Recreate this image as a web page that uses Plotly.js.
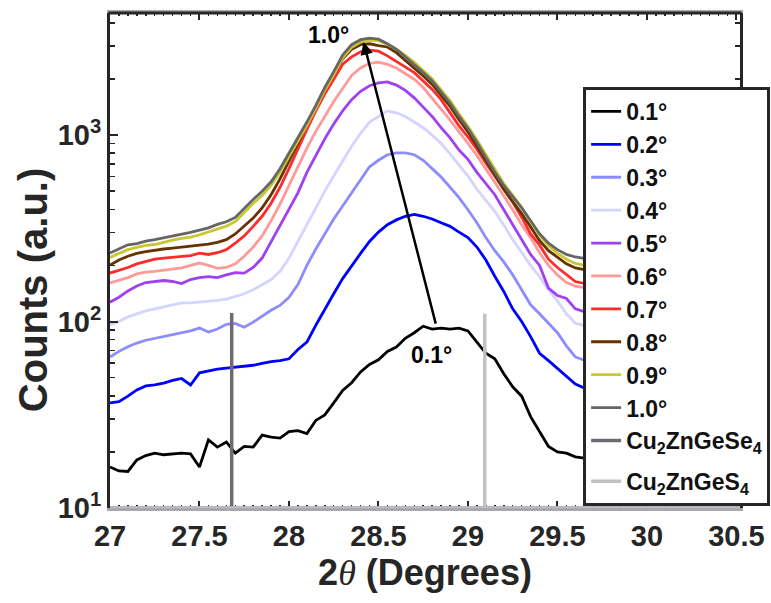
<!DOCTYPE html>
<html>
<head>
<meta charset="utf-8">
<script src="https://cdn.plot.ly/plotly-3.0.1.min.js"></script>
<style>html,body{margin:0;padding:0;background:#fff;}#chart{width:771px;height:603px;}</style>
</head>
<body>
<div id="chart"></div>
<script>
// 2theta grid (degrees)
const twoTheta = [27.00,27.05,27.10,27.15,27.20,27.25,27.30,27.35,27.40,27.45,27.50,27.55,27.60,27.65,27.70,27.75,27.80,27.85,27.90,27.95,
  28.00,28.05,28.10,28.15,28.20,28.25,28.30,28.35,28.40,28.45,28.50,28.55,28.60,28.65,28.70,28.75,28.80,28.85,28.90,28.95,
  29.00,29.05,29.10,29.15,29.20,29.25,29.30,29.35,29.40,29.45,29.50,29.55,29.60,29.65];

const seriesNames = ['0.1°','0.2°','0.3°','0.4°','0.5°','0.6°','0.7°','0.8°','0.9°','1.0°'];

const counts01 = [16.6,15.8,15.7,18.1,19.1,19.7,19.3,19.5,19.7,19.5,16.6,23.2,21.2,22.6,19.7,21.4,21.2,24.6,24,23.7,
  25.7,26,25.1,29.5,31.6,36.6,42.7,47,53.7,58.9,62.4,69.2,73,81.3,87.1,94.4,91.2,92.3,91.2,92.3,
  89.1,77.6,67.6,63.1,52.5,44.7,39.8,30.9,25.7,21.4,20,19.7,18.8,18.5];
const counts02 = [36.6,37.2,39.8,43,45.2,45.7,46.8,48.4,49.5,45.7,53.1,54.3,55.6,56.2,56.9,57.5,58.3,59.6,61,61.7,
  63.1,70.8,77.6,95.5,115,141,170,200,232,269,302,331,351,367,376,367,355,339,324,302,
  282,251,214,175,145,117,100,83,67.6,61.7,56.2,51.3,46.2,44];
const counts03 = [64.6,69.2,73.3,76.7,79.4,81.3,83.2,85.1,86.7,89.1,92.3,87.9,91.2,96.6,97.7,93.3,99.3,107,115,122,
  135,158,200,245,295,355,417,490,575,676,733,785,804,804,785,733,661,596,525,462,
  398,339,282,240,209,178,148,123,110,97.7,87.1,74.1,64.6,62];
const counts04 = [96,100,106,110,114,117,120,123,126,126,127,129,130,132,136,141,148,158,168,186,
  219,269,331,407,501,603,724,871,1023,1175,1259,1349,1318,1259,1175,1096,1000,902,794,692,
  603,513,447,390,330,275,235,200,174,148,129,110,98,95];
const counts05 = [127,135,146,155,162,164,166,164,160,168,172,174,172,178,183,182,195,219,269,324,
  398,490,631,776,955,1148,1349,1549,1718,1841,1905,1928,1854,1738,1585,1413,1259,1096,966,832,
  741,631,550,479,398,331,275,229,200,151,138,133,117,113];
const counts06 = [161,166,172,180,184,186,189,192,194,200,206,200,193,195,204,224,251,288,347,427,
  537,676,851,1047,1259,1514,1778,2089,2291,2427,2460,2399,2291,2138,1995,1799,1585,1380,1202,1047,
  902,776,661,562,473,398,331,282,234,200,178,162,155,152];
const counts07 = [182,188,195,204,209,216,219,221,222,226,233,229,234,243,263,288,324,367,431,525,
  661,851,1072,1349,1660,1995,2399,2630,2800,2858,2818,2661,2483,2317,2163,1950,1758,1549,1318,1122,
  977,841,708,603,513,437,363,295,257,216,195,178,164,160];
const counts08 = [201,214,224,232,237,242,245,248,251,254,257,260,266,275,295,324,359,407,479,582,
  724,902,1148,1413,1758,2138,2570,2884,3055,3090,3020,2970,2770,2520,2300,2075,1870,1630,1425,1210,
  1040,875,728,605,512,440,380,322,272,240,220,204,194,190];
const counts09 = [221,232,243,250,256,259,267,273,279,284,292,303,314,325,344,386,430,475,537,632,
  766,938,1130,1390,1735,2110,2600,2960,3160,3230,3210,3060,2900,2680,2460,2220,2010,1750,1530,1300,
  1115,940,782,650,550,475,410,345,290,255,232,216,205,200];
const counts10 = [233,246,258,262,270,275,281,289,293,301,309,318,332,343,362,405,452,500,562,660,
  798,975,1175,1445,1800,2190,2690,3055,3250,3310,3270,3090,2885,2630,2400,2165,1950,1700,1485,1260,
  1085,912,760,632,537,468,407,347,296,263,243,229,222,218];

// reference patterns (baseline + reflection)
const refSe4Name = 'Cu<sub>2</sub>ZnGeSe<sub>4</sub>';
const refSe4X = [27.0, 27.68, 27.68, 27.68, 30.6];
const refSe4Y = [10, 10, 111, 10, 10];
const refS4Name = 'Cu<sub>2</sub>ZnGeS<sub>4</sub>';
const refS4X = [27.0, 29.094, 29.094, 29.094, 30.6];
const refS4Y = [10, 10, 110, 10, 10];

const yTickVals = [10, 100, 1000];
const yTickText = ['10<sup>1</sup>', '10<sup>2</sup>', '10<sup>3</sup>'];
const yMinorVals = [20,30,40,50,60,70,80,90,200,300,400,500,600,700,800,900,2000,3000,4000];

const allCounts = [counts01,counts02,counts03,counts04,counts05,counts06,counts07,counts08,counts09,counts10];
const colors = ['#000000','#0000ff','#8c8cff','#d4d4ff','#a040f0','#ff9a9a','#ff2a2a','#663300','#c8c832','#666666'];

const FONT = 'Liberation Sans, Arial, Helvetica, sans-serif';
const traces = allCounts.map((c, i) => ({
  x: twoTheta, y: c, type: 'scatter', mode: 'lines', name: seriesNames[i],
  legendgroup: 'samples', line: {color: colors[i], width: 2.8}
}));
traces.push({x: refSe4X, y: refSe4Y, type: 'scatter', mode: 'lines', name: refSe4Name,
  legendgroup: 'samples', line: {color: '#6f6b73', width: 3.5}});
traces.push({x: refS4X, y: refS4Y, type: 'scatter', mode: 'lines', name: refS4Name,
  legendgroup: 'ref', line: {color: '#c2c1c6', width: 3.5}});

const axisCol = '#262626';
const layout = {
  width: 771, height: 603,
  margin: {l: 110, r: 31, t: 13, b: 95, autoexpand: false},
  paper_bgcolor: '#ffffff', plot_bgcolor: '#ffffff',
  showlegend: true,
  xaxis: {
    range: [27, 30.52], dtick: 0.5, tick0: 27,
    ticks: 'inside', ticklen: 7, tickwidth: 2, tickcolor: axisCol,
    minor: {dtick: 0.05, tick0: 27, ticks: 'inside', ticklen: 3, tickwidth: 1.5, tickcolor: axisCol},
    showline: true, linecolor: '#a9a8ad', linewidth: 3, mirror: 'ticks',
    showgrid: false, zeroline: false, layer: 'below traces',
    tickfont: {family: FONT, size: 29, weight: 'bold', color: axisCol},
    title: {text: '2<span style="font-family:Liberation Serif, Times New Roman, serif;font-weight:normal"><i>θ</i></span> (Degrees)',
      font: {family: FONT, size: 36, weight: 'bold', color: axisCol}, standoff: 10}
  },
  yaxis: {
    type: 'log', range: [1, 3.655],
    tickmode: 'array', tickvals: yTickVals, ticktext: yTickText,
    ticks: 'inside', ticklen: 8, tickwidth: 2, tickcolor: axisCol,
    minor: {tickmode: 'array', tickvals: yMinorVals, ticks: 'inside', ticklen: 5, tickwidth: 1.5, tickcolor: axisCol},
    showline: true, linecolor: axisCol, linewidth: 3, mirror: 'ticks',
    showgrid: false, zeroline: false,
    tickfont: {family: FONT, size: 29, weight: 'bold', color: axisCol}
  },
  shapes: [
    {type: 'line', xref: 'paper', yref: 'paper', x0: -0.0024, x1: 1.0024, y0: 1, y1: 1,
     line: {color: axisCol, width: 3}, layer: 'above'}
  ],
  legend: {
    x: 0.751, y: 0.8505, xanchor: 'left', yanchor: 'top',
    bgcolor: '#ffffff', bordercolor: axisCol, borderwidth: 3,
    font: {family: FONT, size: 23, weight: 'bold', color: '#111111'},
    itemwidth: 30, tracegroupgap: 8
  },
  annotations: [
    {xref: 'paper', yref: 'paper', x: -0.122, y: 0.4404, xanchor: 'center', yanchor: 'middle',
     textangle: -90, showarrow: false, text: 'Counts (a.u.)',
     font: {family: FONT, size: 40, weight: 'bold', color: axisCol}},
    {xref: 'x', yref: 'y', axref: 'x', ayref: 'y', x: 28.417, y: 3.499, ax: 28.822, ay: 1.981,
     text: '', showarrow: true, arrowhead: 2, arrowsize: 1, arrowwidth: 2.5, arrowcolor: '#000000', standoff: 0, startstandoff: 0},
    {xref: 'x', yref: 'y', x: 28.222, y: 3.536, text: '1.0°', showarrow: false,
     font: {family: FONT, size: 23, weight: 'bold', color: '#000000'}},
    {xref: 'x', yref: 'y', x: 28.794, y: 1.82, text: '0.1°', showarrow: false,
     font: {family: FONT, size: 23, weight: 'bold', color: '#000000'}}
  ]
};
Plotly.newPlot('chart', traces, layout, {displayModeBar: false, staticPlot: true});
</script>
</body>
</html>
